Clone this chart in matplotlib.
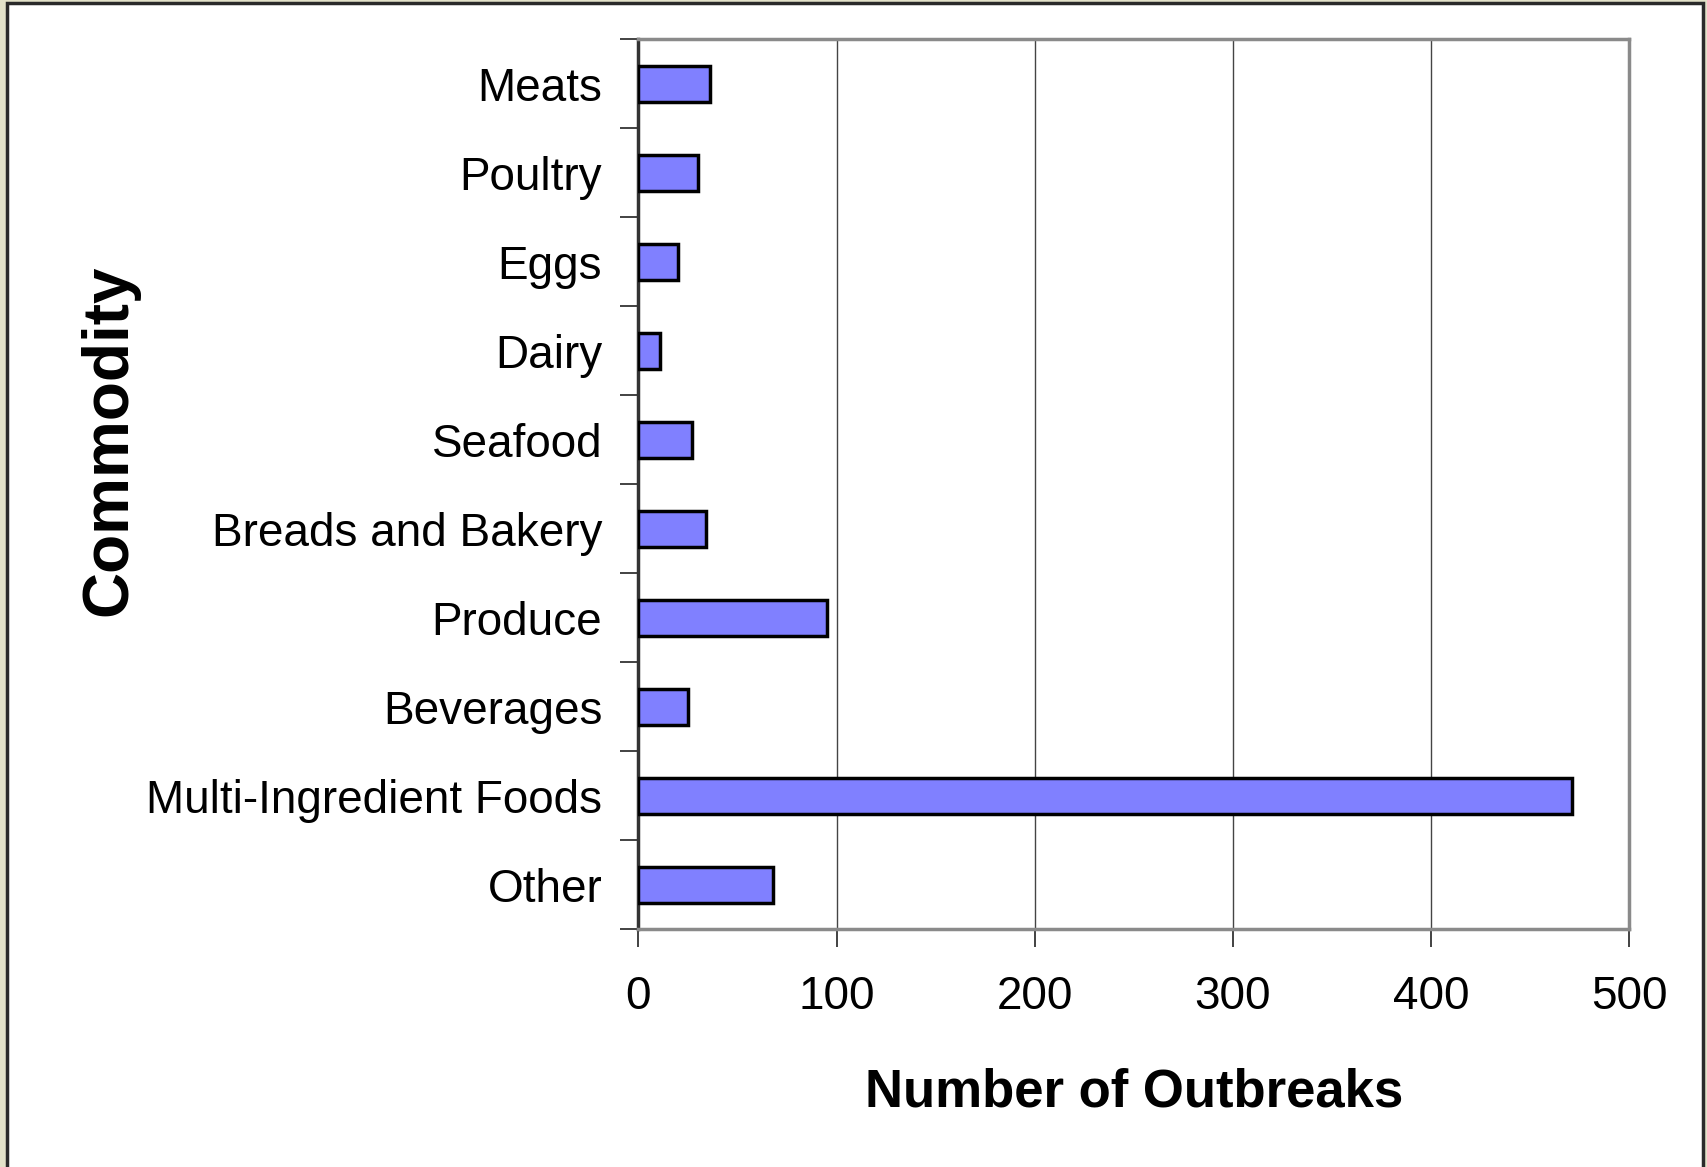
import matplotlib
matplotlib.use("Agg")
import matplotlib.pyplot as plt
from matplotlib.patches import Rectangle
import numpy as np

categories = ["Meats", "Poultry", "Eggs", "Dairy", "Seafood", "Breads and Bakery",
              "Produce", "Beverages", "Multi-Ingredient Foods", "Other"]
outbreaks = [36, 30, 20, 11, 27, 34, 95, 25, 471, 68]
x_ticks = [0, 100, 200, 300, 400, 500]

plt.rcParams['font.family'] = ['Liberation Sans', 'DejaVu Sans']

W, H = 1708, 1167
fig = plt.figure(figsize=(W / 100, H / 100), dpi=100)
fig.patch.set_facecolor('#E3E2C9')
# white panel with dark border
fig.patches.append(Rectangle((7 / W, -0.01), (1703 - 7) / W, 1 - 3 / H + 0.01,
                             transform=fig.transFigure, facecolor='white',
                             edgecolor='#2a2a2a', linewidth=2.5, zorder=-10))

L, R, B, T = 0.3737, 0.954, 0.2036, 0.9664
ax = fig.add_axes([L, B, R - L, T - B])
ax.set_facecolor('white')
ax.set_zorder(1)

y = np.arange(len(categories))
ax.barh(y, outbreaks, height=0.4, color='#8080FF', edgecolor='black',
        linewidth=2.5, zorder=3)

ax.set_ylim(len(categories) - 0.5, -0.5)
ax.set_xlim(0, 500)
ax.set_xticks(x_ticks)
ax.set_xticklabels([str(v) for v in x_ticks], fontsize=33)

ax.set_yticks(y)
ax.set_yticklabels(categories, fontsize=33)
ax.tick_params(axis='y', which='major', length=0, pad=26)
ax.set_yticks(np.arange(len(categories) + 1) - 0.5, minor=True)
ax.tick_params(axis='y', which='minor', length=13, width=1.2, color='#222222',
               direction='out')
ax.tick_params(axis='x', which='major', length=13, width=1.2, color='#222222',
               direction='out', pad=20)
for lbl in ax.get_yticklabels():
    lbl.set_y(lbl.get_position()[1])

ax.grid(axis='x', color='#444444', linewidth=1.0, zorder=1)
ax.set_axisbelow(True)

ax.spines['left'].set_color('#333333')
ax.spines['left'].set_linewidth(2.5)
for s in ['top', 'right', 'bottom']:
    ax.spines[s].set_color('#8a8a8a')
    ax.spines[s].set_linewidth(2.5)

ax.set_xlabel("Number of Outbreaks", fontsize=38, fontweight='bold', labelpad=35)
ax.set_ylabel("Commodity", fontsize=46, fontweight='bold')
ax.yaxis.set_label_coords((139 / W - L) / (R - L), 0.55)

fig.savefig("out.png", dpi=100, facecolor=fig.get_facecolor())
